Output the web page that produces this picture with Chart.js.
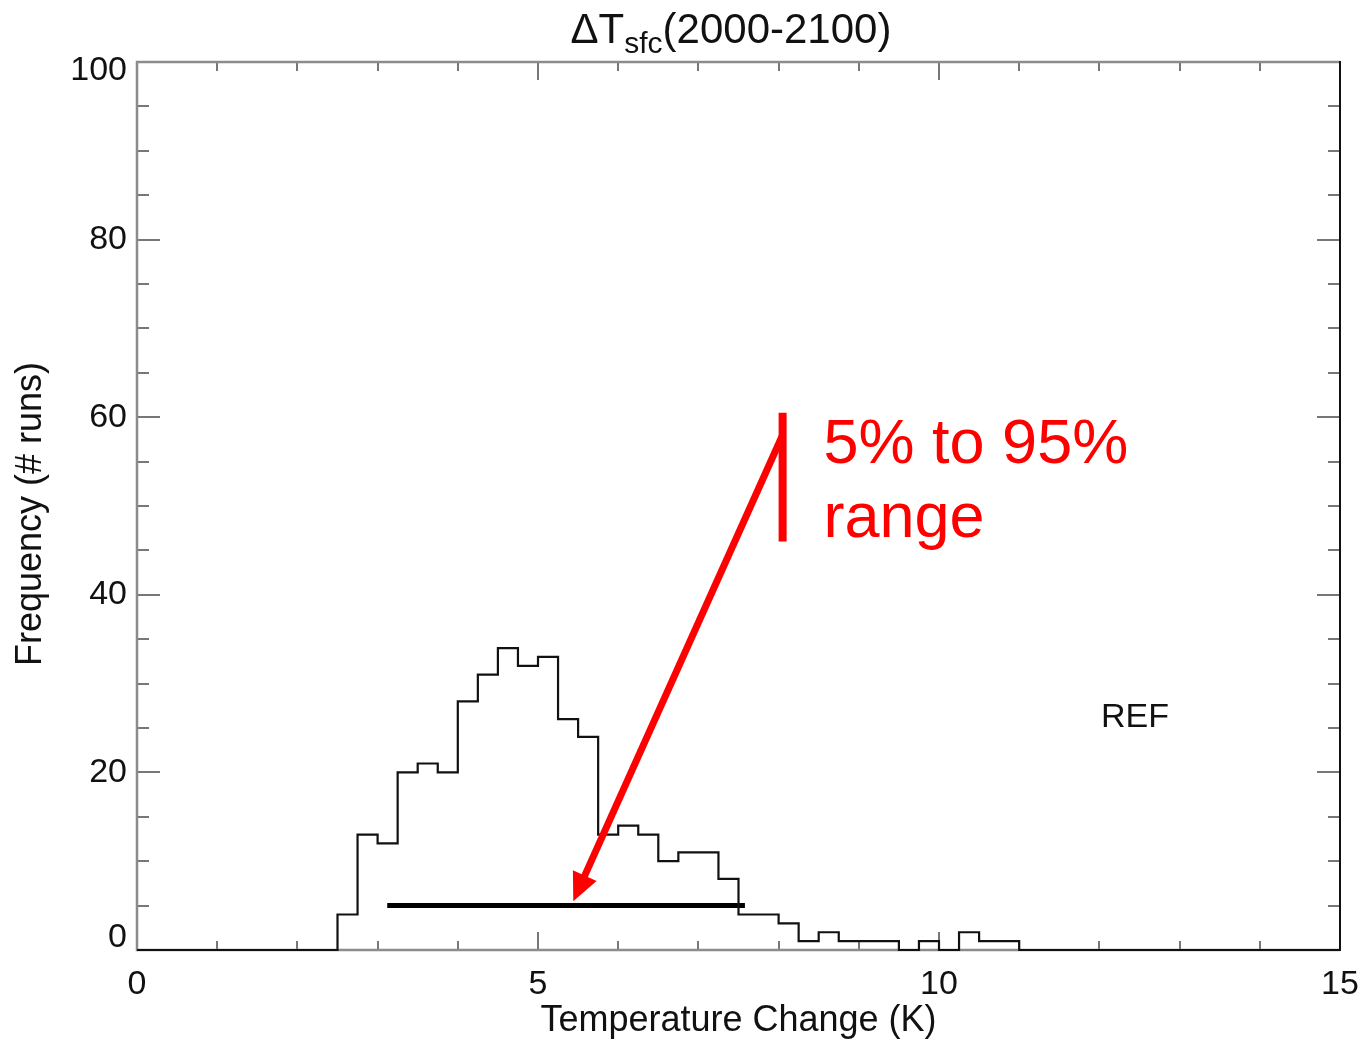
<!DOCTYPE html>
<html><head><meta charset="utf-8">
<script src="https://cdn.jsdelivr.net/npm/chart.js@4.4.1/dist/chart.umd.min.js"></script>
<style>html,body{margin:0;padding:0;background:#fff;}#wrap{width:1366px;height:1040px;}</style>
</head><body><div id="wrap"><canvas id="c" width="1366" height="1040"></canvas></div>
<script>
// ---- data ----
const binLeft = [2.5,2.75,3.0,3.25,3.5,3.75,4.0,4.25,4.5,4.75,5.0,5.25,5.5,5.75,6.0,6.25,6.5,6.75,7.0,7.25,7.5,7.75,8.0,8.25,8.5,8.75,9.0,9.25,9.5,9.75,10.0,10.25,10.5,10.75];
const counts  = [4,13,12,20,21,20,28,31,34,32,33,26,24,13,14,13,10,11,11,8,4,4,3,1,2,1,1,1,0,1,0,2,1,1];
const histEnd = 11.0;
const xMin = 0, xMax = 15, xMajor = 5, xMinor = 1;
const yMin = 0, yMax = 100, yMajor = 20, yMinor = 5;
const xTickLabels = ['0','5','10','15'];
const yTickLabels = ['0','20','40','60','80','100'];
const rangeLow = 3.12, rangeHigh = 7.58, rangeLevel = 5;
const titleMain = 'ΔT', titleSub = 'sfc', titleRest = '(2000-2100)';
const xTitle = 'Temperature Change (K)';
const yTitle = 'Frequency (# runs)';
const noteLines = ['5% to 95%', 'range'];
const noteAnchor = {x: 8.56, y: [54.8, 46.5]};
const markerBar = {x: 8.05, y0: 46.0, y1: 60.5};
const arrowFrom = {x: 8.05, y: 58.0}, arrowTo = {x: 5.44, y: 5.5};
const refLabel = 'REF', refPos = {x: 12.02, y: 25.1};

// ---- build datasets ----
const histPts = [{x: xMin, y: 0}];
binLeft.forEach((b, i) => histPts.push({x: b, y: counts[i]}));
histPts.push({x: histEnd, y: 0});
histPts.push({x: xMax, y: 0});
const rangePts = [{x: rangeLow, y: rangeLevel}, {x: rangeHigh, y: rangeLevel}];

const FONT = '"Liberation Sans", Arial, Helvetica, sans-serif';
// end labels of the y axis are nudged inside the frame (IDL style)
const endNudgeTop = 9, endNudgeBottom = 12;

const deco = {
  id: 'deco',
  beforeDatasetsDraw(chart) {
    const {ctx, chartArea: a, scales: {x, y}} = chart;
    ctx.save();
    ctx.lineCap = 'butt';
    // ticks
    ctx.strokeStyle = '#777'; ctx.lineWidth = 2;
    ctx.beginPath();
    for (let v = yMin; v <= yMax; v += yMinor) {
      const py = Math.round(y.getPixelForValue(v));
      const L = (v % yMajor === 0) ? 23 : 12;
      ctx.moveTo(a.left, py); ctx.lineTo(a.left + L, py);
      ctx.moveTo(a.right, py); ctx.lineTo(a.right - L, py);
    }
    for (let v = xMin; v <= xMax; v += xMinor) {
      const px = Math.round(x.getPixelForValue(v));
      const L = (v % xMajor === 0) ? 18 : 9;
      ctx.moveTo(px, a.bottom); ctx.lineTo(px, a.bottom - L);
      ctx.moveTo(px, a.top); ctx.lineTo(px, a.top + L);
    }
    ctx.stroke();
    // frame
    ctx.strokeStyle = '#8c8c8c'; ctx.lineWidth = 2.5;
    ctx.beginPath();
    ctx.moveTo(a.right, a.top); ctx.lineTo(a.left, a.top); ctx.lineTo(a.left, a.bottom); ctx.lineTo(a.right, a.bottom);
    ctx.stroke();
    ctx.strokeStyle = '#111'; ctx.lineWidth = 2;
    ctx.beginPath(); ctx.moveTo(a.right, a.top - 1); ctx.lineTo(a.right, a.bottom + 1); ctx.stroke();
    ctx.restore();
  },
  afterDraw(chart) {
    const {ctx, chartArea: a, scales: {x, y}} = chart;
    ctx.save();
    ctx.fillStyle = '#111';
    // title with subscript
    const fMain = '42px ' + FONT, fSub = '30px ' + FONT;
    ctx.font = fMain; const w1 = ctx.measureText(titleMain).width; const w3 = ctx.measureText(titleRest).width;
    ctx.font = fSub; const w2 = ctx.measureText(titleSub).width;
    let tx = 731 - (w1 + w2 + w3) / 2;
    ctx.textAlign = 'left'; ctx.textBaseline = 'alphabetic';
    ctx.font = fMain; ctx.fillText(titleMain, tx, 43); tx += w1;
    ctx.font = fSub; ctx.fillText(titleSub, tx, 53); tx += w2;
    ctx.font = fMain; ctx.fillText(titleRest, tx, 43);
    // axis titles
    ctx.font = '36px ' + FONT; ctx.textAlign = 'center';
    ctx.fillText(xTitle, (a.left + a.right) / 2, 1031);
    ctx.save();
    ctx.translate(41, (a.top + a.bottom) / 2 + 8);
    ctx.rotate(-Math.PI / 2);
    ctx.fillText(yTitle, 0, 0);
    ctx.restore();
    // REF label
    ctx.font = '34px ' + FONT; ctx.textAlign = 'left';
    ctx.fillText(refLabel, x.getPixelForValue(refPos.x), y.getPixelForValue(refPos.y));
    // red annotation
    ctx.strokeStyle = '#ff0000'; ctx.fillStyle = '#ff0000';
    ctx.lineWidth = 8; ctx.lineCap = 'butt';
    const bx = x.getPixelForValue(markerBar.x);
    ctx.beginPath(); ctx.moveTo(bx, y.getPixelForValue(markerBar.y1)); ctx.lineTo(bx, y.getPixelForValue(markerBar.y0)); ctx.stroke();
    const sx = x.getPixelForValue(arrowFrom.x), sy = y.getPixelForValue(arrowFrom.y);
    const ex = x.getPixelForValue(arrowTo.x), ey = y.getPixelForValue(arrowTo.y);
    const dx = ex - sx, dy = ey - sy, len = Math.hypot(dx, dy), ux = dx / len, uy = dy / len;
    const headL = 28, headW = 13;
    const hx = ex - ux * headL, hy = ey - uy * headL;
    ctx.lineWidth = 7;
    ctx.beginPath(); ctx.moveTo(sx, sy); ctx.lineTo(hx + ux * 2, hy + uy * 2); ctx.stroke();
    ctx.beginPath();
    ctx.moveTo(ex, ey);
    ctx.lineTo(hx - uy * headW, hy + ux * headW);
    ctx.lineTo(hx + uy * headW, hy - ux * headW);
    ctx.closePath(); ctx.fill();
    ctx.font = '63px ' + FONT; ctx.textAlign = 'left'; ctx.textBaseline = 'alphabetic';
    noteLines.forEach((t, i) => ctx.fillText(t, x.getPixelForValue(noteAnchor.x), y.getPixelForValue(noteAnchor.y[i])));
    ctx.restore();
  }
};

new Chart(document.getElementById('c'), {
  type: 'line',
  data: {
    datasets: [
      {data: histPts, stepped: 'before', borderColor: '#111', borderWidth: 2.2, pointRadius: 0, fill: false, clip: false},
      {data: rangePts, borderColor: '#000', borderWidth: 5, pointRadius: 0, fill: false, clip: false, borderCapStyle: 'butt'}
    ]
  },
  options: {
    responsive: false, animation: false, devicePixelRatio: 1,
    layout: {padding: {left: 0, top: 62, right: 26, bottom: 0}},
    plugins: {legend: {display: false}, tooltip: {enabled: false}, title: {display: false}},
    scales: {
      x: {type: 'linear', min: xMin, max: xMax,
          grid: {display: false, drawTicks: false}, border: {display: false},
          ticks: {stepSize: xMajor, padding: 14, color: '#111', font: {size: 34, family: FONT},
                  callback: (v) => xTickLabels[Math.round((v - xMin) / xMajor)] ?? ''},
          afterFit: (s) => { s.height = 90; s.paddingLeft = 0; s.paddingRight = 0; }},
      y: {type: 'linear', min: yMin, max: yMax,
          grid: {display: false, drawTicks: false}, border: {display: false},
          ticks: {stepSize: yMajor, padding: 10, color: '#111',
                  font: (c) => {
                    const v = c.tick ? c.tick.value : null;
                    if (v === yMax) return {size: 34, family: FONT, lineHeight: (2 * endNudgeTop) + 'px'};
                    if (v === yMin) return {size: 34, family: FONT, lineHeight: (2 * endNudgeBottom) + 'px'};
                    return {size: 34, family: FONT};
                  },
                  callback: (v) => {
                    const t = yTickLabels[Math.round((v - yMin) / yMajor)] ?? '';
                    if (v === yMax) return ['', t];
                    if (v === yMin) return [t, ''];
                    return t;
                  }},
          afterFit: (s) => { s.width = 137; s.paddingTop = 0; s.paddingBottom = 0; }}
    }
  },
  plugins: [deco]
});
</script></body></html>
